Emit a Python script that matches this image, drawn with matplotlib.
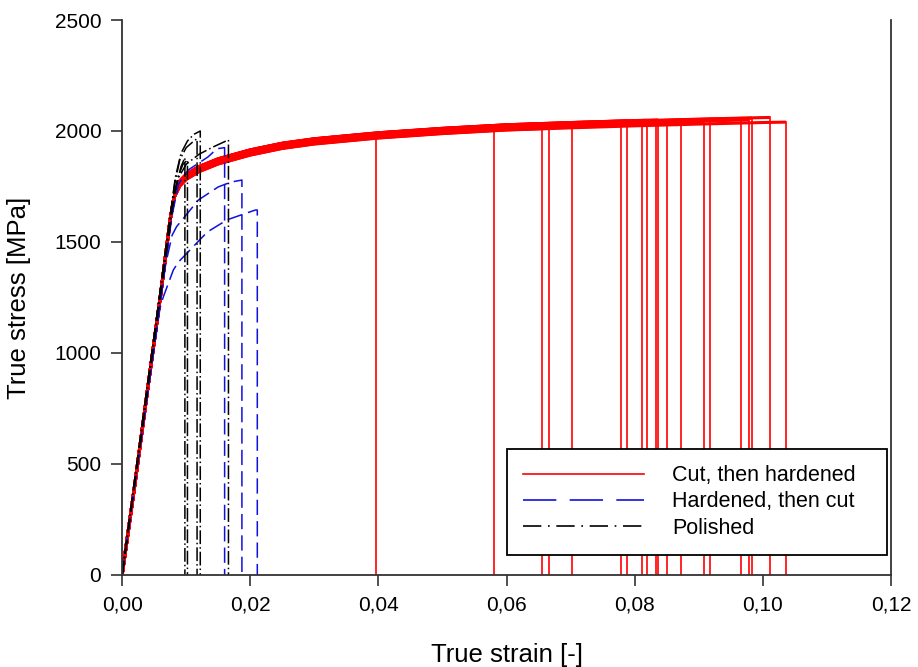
import numpy as np
import matplotlib
matplotlib.use("Agg")
import matplotlib.pyplot as plt
from matplotlib.lines import Line2D
from matplotlib.ticker import MultipleLocator, FuncFormatter

plt.rcParams['font.family'] = ['Liberation Sans', 'DejaVu Sans']

# --- Cut, then hardened (red): shared curve
red_strain = [0.0, 0.002, 0.004, 0.006, 0.0075, 0.0081, 0.009, 0.010, 0.012, 0.015,
              0.020, 0.025, 0.030, 0.040, 0.050, 0.060, 0.070, 0.080, 0.090, 0.100, 0.104]
red_stress = [0, 410, 840, 1260, 1600, 1700, 1765, 1795, 1830, 1865,
              1905, 1935, 1955, 1982, 2002, 2018, 2028, 2037, 2045, 2052, 2054]

# failure strain and stress at failure of each red specimen
red_fail = [0.0396, 0.0581, 0.0656, 0.0667, 0.0702, 0.0778, 0.0788, 0.0812, 0.0819, 0.0834,
            0.0837, 0.0850, 0.0873, 0.0908, 0.0918, 0.0966, 0.0979, 0.0983, 0.1011, 0.1036]
red_end = [1972, 2004, 2032, 2012, 2036, 2024, 2046, 2028, 2048, 2030,
           2050, 2032, 2046, 2040, 2052, 2056, 2050, 2058, 2061, 2040]

# --- Hardened, then cut (blue)
blue_strain = [
    [0.0, 0.004, 0.0078, 0.0088, 0.0103, 0.0134, 0.0148, 0.0160, 0.0160],
    [0.0, 0.004, 0.0068, 0.0078, 0.0085, 0.0104, 0.0119, 0.0150, 0.0170, 0.0187, 0.0187],
    [0.0, 0.004, 0.0059, 0.0064, 0.0080, 0.0088, 0.0133, 0.0164, 0.0208, 0.0211, 0.0211],
]
blue_stress = [
    [0, 830, 1620, 1760, 1824, 1883, 1920, 1925, 0],
    [0, 830, 1400, 1530, 1569, 1636, 1689, 1748, 1770, 1779, 0],
    [0, 820, 1200, 1250, 1374, 1410, 1545, 1600, 1644, 1644, 0],
]

# --- Polished (black)
black_strain = [
    [0.0, 0.004, 0.0078, 0.0085, 0.0092, 0.0098, 0.0098],
    [0.0, 0.004, 0.0080, 0.0088, 0.0095, 0.0102, 0.0102],
    [0.0, 0.004, 0.0082, 0.0090, 0.0100, 0.0110, 0.0117, 0.0117],
    [0.0, 0.004, 0.0083, 0.0092, 0.0102, 0.0112, 0.0122, 0.0122],
    [0.0, 0.004, 0.0080, 0.0088, 0.0100, 0.0120, 0.0142, 0.0166, 0.0166],
]
black_stress = [
    [0, 840, 1640, 1760, 1840, 1880, 0],
    [0, 850, 1700, 1800, 1850, 1870, 0],
    [0, 860, 1760, 1870, 1925, 1950, 1965, 0],
    [0, 860, 1790, 1900, 1955, 1985, 2000, 0],
    [0, 850, 1700, 1790, 1850, 1895, 1928, 1960, 0],
]

labels = ['Cut, then hardened', 'Hardened, then cut', 'Polished']

blue_dash = (10, 4)
black_dash = (9, 2, 1, 2)

fig = plt.figure(figsize=(9.18, 6.67), dpi=100)
ax = fig.add_axes([0.133, 0.138, 0.8376, 0.832])

rs = np.array(red_strain)
rt = np.array(red_stress)
for fail, end in zip(red_fail, red_end):
    # shift the plastic part so the curve ends at the read failure stress
    shift = end - np.interp(fail, rs, rt)
    keep = rs < fail
    xs = list(rs[keep]) + [fail]
    ys = [v + shift if x > 0.0081 else v for x, v in zip(rs[keep], rt[keep])] + [end]
    ax.plot(xs, ys, color='#ff0000', lw=2.2, solid_capstyle='butt')
    ax.plot([fail, fail], [end, 0], color='#ff0000', lw=1.2)

for xs, ys in zip(blue_strain, blue_stress):
    ax.plot(xs, ys, color='#1010e0', lw=1.1, dashes=blue_dash)

for xs, ys in zip(black_strain, black_stress):
    ax.plot(xs, ys, color='black', lw=1.1, dashes=black_dash)

ax.set_xlim(0, 0.12)
ax.set_ylim(0, 2500)
ax.xaxis.set_major_locator(MultipleLocator(0.02))
ax.yaxis.set_major_locator(MultipleLocator(500))
ax.xaxis.set_major_formatter(FuncFormatter(lambda v, p: f"{v:.2f}".replace('.', ',')))
ax.tick_params(direction='out', length=8, width=1.2, labelsize=15, pad=7, color='#333333')
ax.tick_params(axis='y', right=False)

for s in ['left', 'bottom', 'right']:
    ax.spines[s].set_linewidth(1.3)
    ax.spines[s].set_color('#333333')
ax.spines['top'].set_visible(False)

ax.set_xlabel('True strain [-]', fontsize=18.5, labelpad=20)
ax.set_ylabel('True stress [MPa]', fontsize=18.5, labelpad=17)

handles = [
    Line2D([], [], color='#ff0000', lw=1.2),
    Line2D([], [], color='#1010e0', lw=1.2, dashes=(20, 8)),
    Line2D([], [], color='black', lw=1.2, dashes=(11, 4, 1, 4)),
]
leg = ax.legend(handles, labels, loc='lower left', bbox_to_anchor=(0.5007, 0.036, 0.494, 0.2),
                mode='expand', fontsize=15.5, handlelength=5.6, handletextpad=1.3,
                labelspacing=0.25, borderpad=0.75, borderaxespad=0, fancybox=False,
                framealpha=1, edgecolor='black')
leg.get_frame().set_linewidth(1.3)

fig.savefig('out.png', dpi=100)
